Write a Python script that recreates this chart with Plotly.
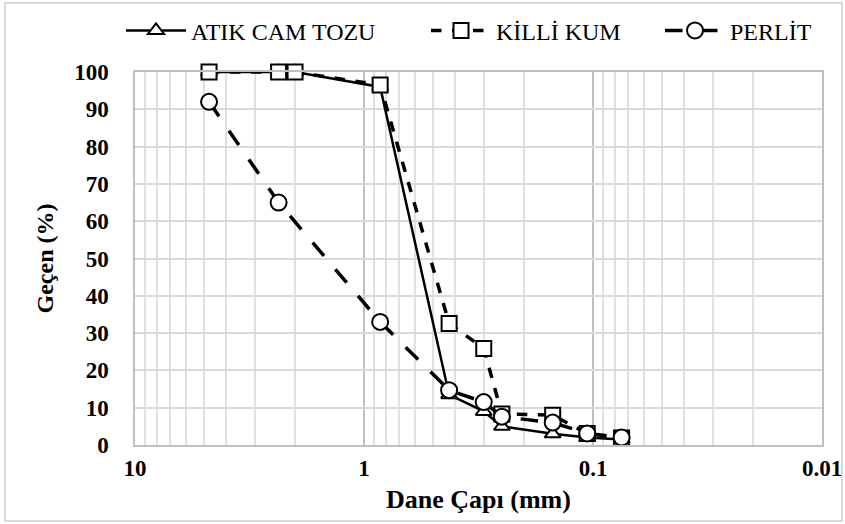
import plotly.graph_objects as go

sieve_mm = [4.75, 2.36, 2.0, 0.85, 0.425, 0.3, 0.25, 0.15, 0.106, 0.075]
atik_cam = [100, 100, 100, 96, 13.5, 9, 5, 3, 2, 1.5]
killi_kum = [100, 100, 100, 96.5, 32.6, 25.9, 8.3, 8, 3.1, 1.9]
perlit_mm = [4.75, 2.36, 0.85, 0.425, 0.3, 0.25, 0.15, 0.106, 0.075]
perlit = [92, 65, 33, 14.7, 11.5, 7.6, 6, 3.1, 2]

x_ticks = [10, 1, 0.1, 0.01]
x_ticktext = ["10", "1", "0.1", "0.01"]
y_ticks = list(range(0, 101, 10))

FONT = "Liberation Serif, Times New Roman, serif"
L, R, T, B = 135, 23, 72, 79
PW = 845 - L - R

fig = go.Figure()
fig.add_trace(go.Scatter(
    x=sieve_mm, y=atik_cam, name="ATIK CAM TOZU", mode="lines+markers",
    line=dict(color="black", width=2.5, dash="solid"), cliponaxis=False,
    marker=dict(symbol="triangle-up", size=14, color="white",
                line=dict(color="black", width=2)),
    legend="legend",
))
fig.add_trace(go.Scatter(
    x=sieve_mm, y=killi_kum, name="KİLLİ KUM", mode="lines+markers",
    line=dict(color="black", width=3.5, dash="dash"), cliponaxis=False,
    marker=dict(symbol="square", size=15, color="white",
                line=dict(color="black", width=2)),
    legend="legend2",
))
fig.add_trace(go.Scatter(
    x=perlit_mm, y=perlit, name="PERLİT", mode="lines+markers",
    line=dict(color="black", width=3.5, dash="longdash"), cliponaxis=False,
    marker=dict(symbol="circle", size=16, color="white",
                line=dict(color="black", width=2)),
    legend="legend3",
))

def leg(px):
    return dict(orientation="h", x=(px - L) / PW, xanchor="left", y=1.05, yanchor="bottom",
                font=dict(family=FONT, size=24, color="black", weight="normal"), itemwidth=60,
                bgcolor="rgba(0,0,0,0)")

fig.update_layout(
    width=845, height=524,
    margin=dict(l=L, r=R, t=T, b=B, autoexpand=False),
    paper_bgcolor="white", plot_bgcolor="white",
    font=dict(family=FONT, color="black"),
    showlegend=True,
    legend=leg(121), legend2=leg(426), legend3=leg(660),
    xaxis=dict(
        type="log", range=[1, -2], automargin=False,
        tickvals=x_ticks, ticktext=x_ticktext,
        tickfont=dict(family=FONT, size=23, color="black", weight="bold"),
        showgrid=True, gridcolor="#bfbfbf", gridwidth=1.5,
        minor=dict(showgrid=True, gridcolor="#e0e0e0", gridwidth=1.5, dtick="D1"),
        showline=True, linecolor="#bfbfbf", linewidth=1.5, mirror=True,
        zeroline=False, ticks="", ticklabelstandoff=2,
        title=dict(text="<b>Dane Çapı (mm)</b>", font=dict(family=FONT, size=26, color="black"),
                   standoff=9),
    ),
    yaxis=dict(
        range=[0, 100], tickvals=y_ticks, automargin=False,
        tickfont=dict(family=FONT, size=23, color="black", weight="bold"),
        showgrid=True, gridcolor="#d9d9d9", gridwidth=1.5,
        showline=True, linecolor="#bfbfbf", linewidth=1.5, mirror=True,
        zeroline=False, ticks="", ticklabelstandoff=20,
        title=dict(text="<b>Geçen (%)</b>", font=dict(family=FONT, size=24, color="black"),
                   standoff=14),
    ),
)

# outer chart border
fig.add_shape(type="rect", xref="paper", yref="paper",
              x0=(5 - L) / PW, x1=(842 - L) / PW,
              y0=(524 - B - 521) / (524 - T - B), y1=(524 - B - 3) / (524 - T - B),
              line=dict(color="#d9d9d9", width=2), fillcolor="rgba(0,0,0,0)", layer="below")

fig.write_html("out.html")
